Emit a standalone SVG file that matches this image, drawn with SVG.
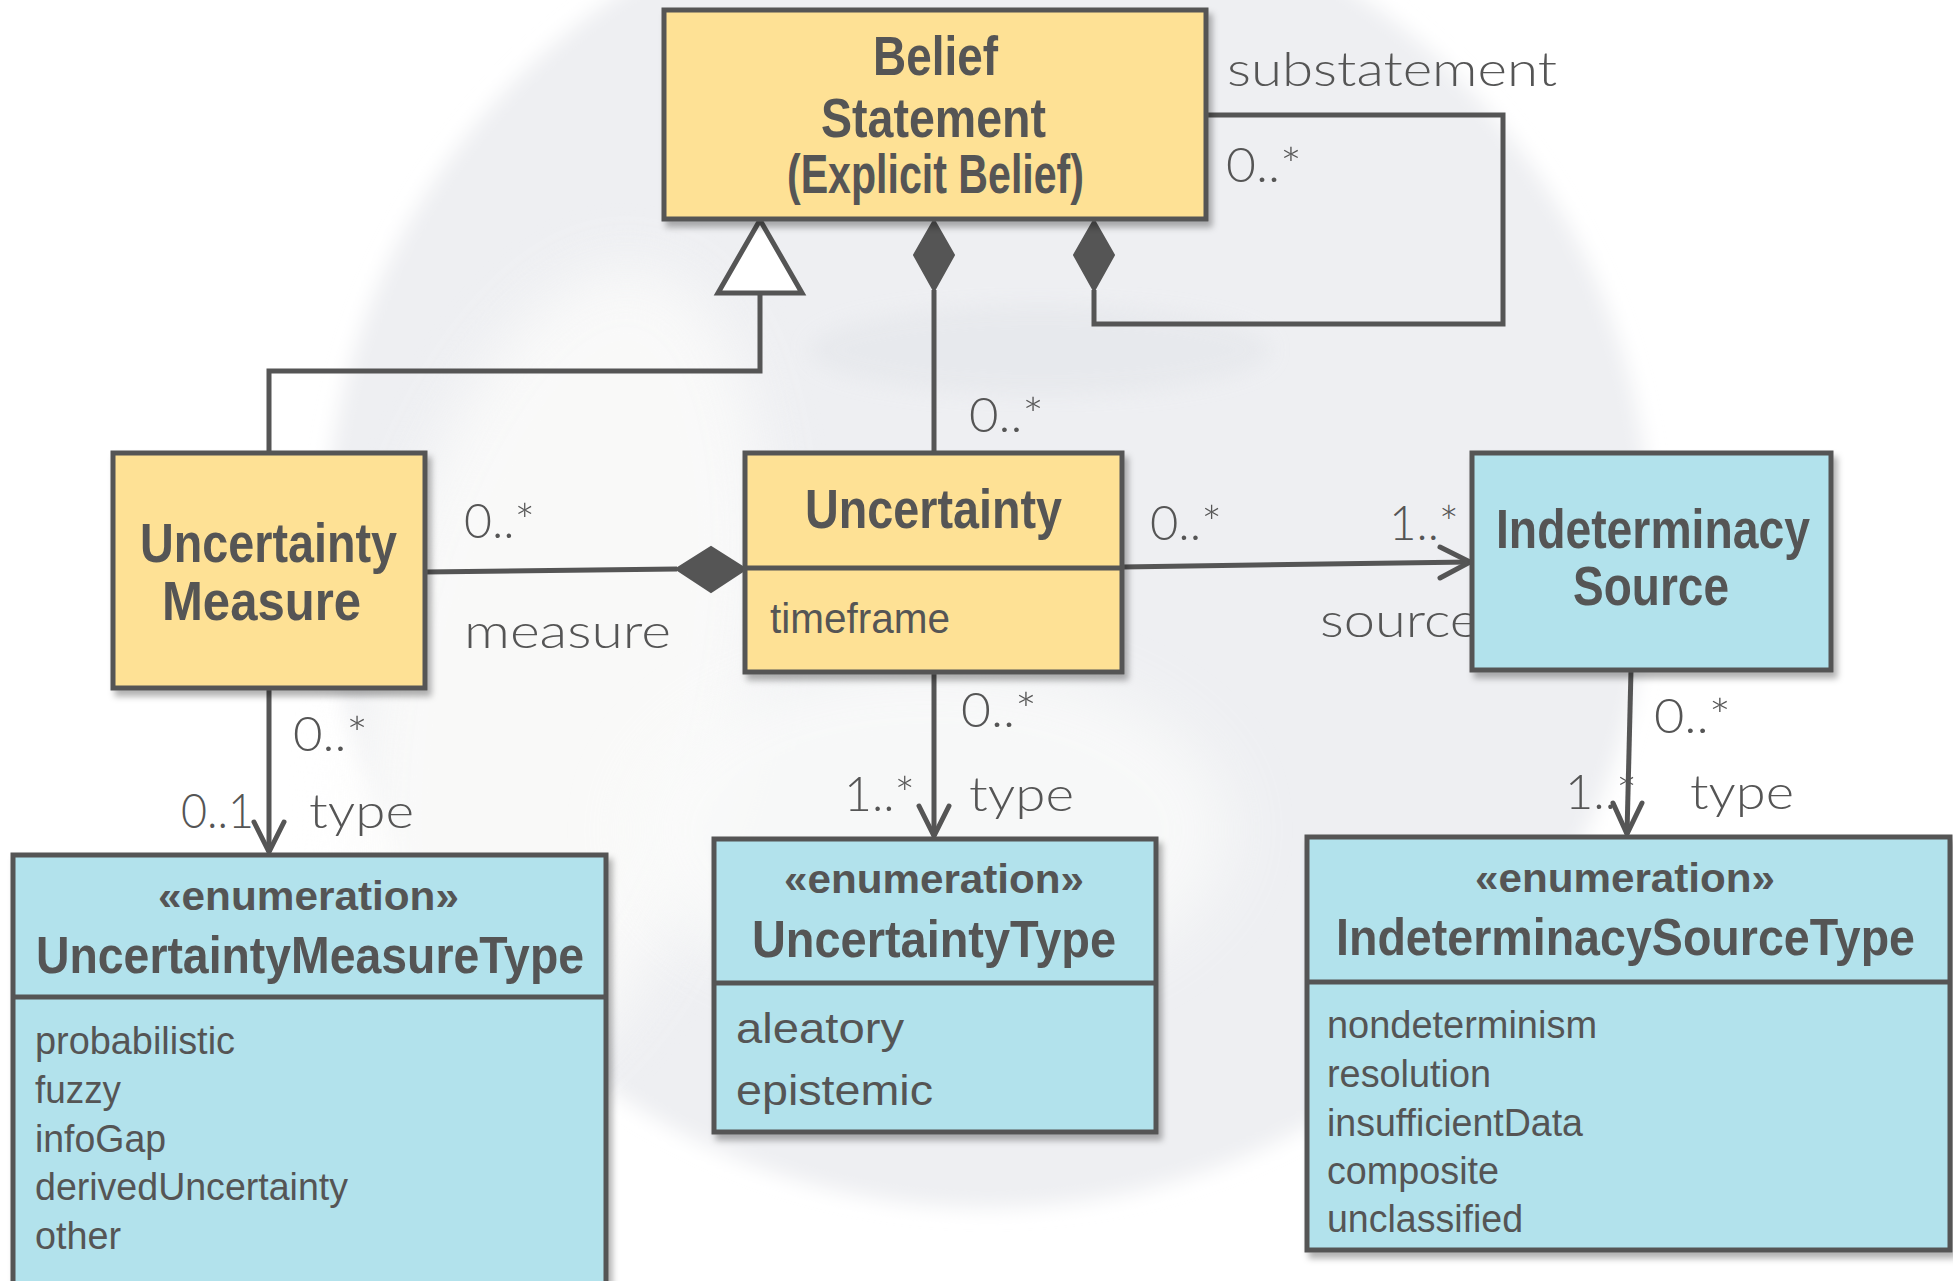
<svg xmlns="http://www.w3.org/2000/svg" width="1953" height="1281" viewBox="0 0 1953 1281">
  <style>
    .cls-y { fill: #fee195; stroke: #555555; stroke-width: 5; }
    .cls-b { fill: #b2e2ec; stroke: #555555; stroke-width: 5; }
    .div { stroke: #555555; stroke-width: 5; fill: none; }
    .name { font-family: "Liberation Sans", Arial, sans-serif; font-weight: bold; font-size: 56px; fill: #555555; }
    .ename { font-family: "Liberation Sans", Arial, sans-serif; font-weight: bold; font-size: 52px; fill: #555555; }
    .stereo { font-family: "Liberation Sans", Arial, sans-serif; font-weight: bold; font-size: 40px; fill: #555555; }
    .attr { font-family: "Liberation Sans", Arial, sans-serif; font-size: 42px; fill: #555555; }
    .lit { font-family: "Liberation Sans", Arial, sans-serif; font-size: 38px; fill: #555555; }
    .lbl { font-family: Lato, "Open Sans", sans-serif; font-weight: 300; font-size: 48px; fill: #555555; }
    .edge { stroke: #555555; stroke-width: 5; fill: none; stroke-linejoin: miter; }
    .open { stroke: #555555; stroke-width: 5; fill: none; stroke-linecap: round; stroke-linejoin: round; }
    .comp { fill: #555555; stroke: #555555; stroke-width: 2; }
    .gen { fill: #ffffff; stroke: #555555; stroke-width: 5; }
  </style>
  <defs>
    <filter id="shadow" x="-10%" y="-10%" width="130%" height="130%">
      <feDropShadow dx="4" dy="6" stdDeviation="3" flood-color="#000000" flood-opacity="0.3"/>
    </filter>
    <filter id="soft" x="-20%" y="-20%" width="140%" height="140%">
      <feGaussianBlur stdDeviation="10"/>
    </filter>
    <filter id="softer" x="-40%" y="-40%" width="180%" height="180%">
      <feGaussianBlur stdDeviation="30"/>
    </filter>
  </defs>

  <!-- faint globe backdrop -->
  <g id="backdrop">
    <rect x="0" y="0" width="1953" height="1281" fill="#ffffff"/>
    <circle cx="988" cy="545" r="663" fill="#eeeff2" filter="url(#soft)"/>
    <ellipse cx="560" cy="680" rx="190" ry="420" fill="#fbfbfa" opacity="0.85" filter="url(#softer)" transform="rotate(12 560 680)"/>
    <ellipse cx="930" cy="830" rx="300" ry="170" fill="#fafbfa" opacity="0.8" filter="url(#softer)"/>
    <ellipse cx="1040" cy="350" rx="230" ry="45" fill="#e6e8ec" opacity="0.8" filter="url(#soft)"/>
  </g>

  <!-- connectors -->
  <g id="connectors">
    <!-- generalization: Uncertainty Measure -> Belief Statement -->
    <polyline class="edge" points="269,453 269,371 760,371 760,293"/>
    <polygon class="gen" points="760,220 718,293 802,293"/>
    <!-- composition: Belief Statement <>- Uncertainty -->
    <line class="edge" x1="934" y1="290" x2="934" y2="453"/>
    <polygon class="comp" points="934,220 954,255 934,291 914,255"/>
    <!-- composition: substatement (self) -->
    <polyline class="edge" points="1094,290 1094,324 1503,324 1503,115 1206,115"/>
    <polygon class="comp" points="1094,220 1114,255 1094,291 1074,255"/>
    <!-- composition: Uncertainty <>- Uncertainty Measure -->
    <line class="edge" x1="425" y1="572" x2="677" y2="569"/>
    <polygon class="comp" points="746,569 711,547 676,569 711,592"/>
    <!-- association: Uncertainty -> Indeterminacy Source -->
    <line class="edge" x1="1122" y1="567" x2="1470" y2="562"/>
    <polyline class="open" points="1440,547 1470,562 1440,578"/>
    <!-- association: Uncertainty Measure -> UncertaintyMeasureType -->
    <line class="edge" x1="269" y1="688" x2="269" y2="852"/>
    <polyline class="open" points="254,822 269,852 284,822"/>
    <!-- association: Uncertainty -> UncertaintyType -->
    <line class="edge" x1="934" y1="672" x2="934" y2="836"/>
    <polyline class="open" points="919,806 934,836 949,806"/>
    <!-- association: Indeterminacy Source -> IndeterminacySourceType -->
    <line class="edge" x1="1631" y1="670" x2="1627" y2="834"/>
    <polyline class="open" points="1613,803 1627,834 1642,803"/>

    <!-- role names and multiplicities -->
    <text class="lbl" x="1227" y="86" textLength="330" lengthAdjust="spacingAndGlyphs">substatement</text>
    <text class="lbl" x="1226" y="182" textLength="76" lengthAdjust="spacingAndGlyphs">0..*</text>
    <text class="lbl" x="969" y="432" textLength="75" lengthAdjust="spacingAndGlyphs">0..*</text>
    <text class="lbl" x="464" y="538" textLength="71" lengthAdjust="spacingAndGlyphs">0..*</text>
    <text class="lbl" x="464" y="648" textLength="207" lengthAdjust="spacingAndGlyphs">measure</text>
    <text class="lbl" x="1150" y="540" textLength="72" lengthAdjust="spacingAndGlyphs">0..*</text>
    <text class="lbl" x="1389" y="540" textLength="70" lengthAdjust="spacingAndGlyphs">1..*</text>
    <text class="lbl" x="1320" y="637" textLength="159" lengthAdjust="spacingAndGlyphs">source</text>
    <text class="lbl" x="293" y="751" textLength="75" lengthAdjust="spacingAndGlyphs">0..*</text>
    <text class="lbl" x="181" y="828" textLength="73" lengthAdjust="spacingAndGlyphs">0..1</text>
    <text class="lbl" x="309" y="828" textLength="105" lengthAdjust="spacingAndGlyphs">type</text>
    <text class="lbl" x="961" y="727" textLength="76" lengthAdjust="spacingAndGlyphs">0..*</text>
    <text class="lbl" x="844" y="811" textLength="71" lengthAdjust="spacingAndGlyphs">1..*</text>
    <text class="lbl" x="969" y="811" textLength="105" lengthAdjust="spacingAndGlyphs">type</text>
    <text class="lbl" x="1654" y="733" textLength="77" lengthAdjust="spacingAndGlyphs">0..*</text>
    <text class="lbl" x="1565" y="809" textLength="72" lengthAdjust="spacingAndGlyphs">1..*</text>
    <text class="lbl" x="1690" y="809" textLength="104" lengthAdjust="spacingAndGlyphs">type</text>
  </g>

  <!-- Belief Statement -->
  <g id="belief-statement">
    <rect class="cls-y" x="664" y="10" width="542" height="209" filter="url(#shadow)"/>
    <text class="name" x="873" y="75" textLength="125" lengthAdjust="spacingAndGlyphs">Belief</text>
    <text class="name" x="821" y="137" textLength="225" lengthAdjust="spacingAndGlyphs">Statement</text>
    <text class="name" x="787" y="193" textLength="297" lengthAdjust="spacingAndGlyphs">(Explicit Belief)</text>
  </g>

  <!-- Uncertainty Measure -->
  <g id="uncertainty-measure">
    <rect class="cls-y" x="113" y="453" width="312" height="235" filter="url(#shadow)"/>
    <text class="name" x="140" y="562" textLength="257" lengthAdjust="spacingAndGlyphs">Uncertainty</text>
    <text class="name" x="162" y="620" textLength="199" lengthAdjust="spacingAndGlyphs">Measure</text>
  </g>

  <!-- Uncertainty -->
  <g id="uncertainty">
    <rect class="cls-y" x="745" y="453" width="377" height="219" filter="url(#shadow)"/>
    <line class="div" x1="745" y1="568" x2="1122" y2="568"/>
    <text class="name" x="805" y="528" textLength="257" lengthAdjust="spacingAndGlyphs">Uncertainty</text>
    <text class="attr" x="770" y="633" textLength="180" lengthAdjust="spacingAndGlyphs">timeframe</text>
  </g>

  <!-- Indeterminacy Source -->
  <g id="indeterminacy-source">
    <rect class="cls-b" x="1472" y="453" width="359" height="217" filter="url(#shadow)"/>
    <text class="name" x="1496" y="548" textLength="314" lengthAdjust="spacingAndGlyphs">Indeterminacy</text>
    <text class="name" x="1573" y="605" textLength="156" lengthAdjust="spacingAndGlyphs">Source</text>
  </g>

  <!-- UncertaintyMeasureType enumeration -->
  <g id="uncertainty-measure-type">
    <rect class="cls-b" x="13" y="855" width="593" height="440" filter="url(#shadow)"/>
    <line class="div" x1="13" y1="997" x2="606" y2="997"/>
    <text class="stereo" x="158" y="910" textLength="301" lengthAdjust="spacingAndGlyphs">«enumeration»</text>
    <text class="ename" x="36" y="973" textLength="548" lengthAdjust="spacingAndGlyphs">UncertaintyMeasureType</text>
    <text class="lit" x="35" y="1054" textLength="200" lengthAdjust="spacingAndGlyphs">probabilistic</text>
    <text class="lit" x="35" y="1103" textLength="86" lengthAdjust="spacingAndGlyphs">fuzzy</text>
    <text class="lit" x="35" y="1152" textLength="131" lengthAdjust="spacingAndGlyphs">infoGap</text>
    <text class="lit" x="35" y="1200" textLength="313" lengthAdjust="spacingAndGlyphs">derivedUncertainty</text>
    <text class="lit" x="35" y="1249" textLength="86" lengthAdjust="spacingAndGlyphs">other</text>
  </g>

  <!-- UncertaintyType enumeration -->
  <g id="uncertainty-type">
    <rect class="cls-b" x="714" y="839" width="442" height="293" filter="url(#shadow)"/>
    <line class="div" x1="714" y1="983" x2="1156" y2="983"/>
    <text class="stereo" x="784" y="893" textLength="300" lengthAdjust="spacingAndGlyphs">«enumeration»</text>
    <text class="ename" x="752" y="957" textLength="364" lengthAdjust="spacingAndGlyphs">UncertaintyType</text>
    <text class="attr" x="736" y="1043" textLength="168" lengthAdjust="spacingAndGlyphs">aleatory</text>
    <text class="attr" x="736" y="1105" textLength="197" lengthAdjust="spacingAndGlyphs">epistemic</text>
  </g>

  <!-- IndeterminacySourceType enumeration -->
  <g id="indeterminacy-source-type">
    <rect class="cls-b" x="1307" y="837" width="643" height="413" filter="url(#shadow)"/>
    <line class="div" x1="1307" y1="982" x2="1950" y2="982"/>
    <text class="stereo" x="1475" y="892" textLength="300" lengthAdjust="spacingAndGlyphs">«enumeration»</text>
    <text class="ename" x="1336" y="955" textLength="579" lengthAdjust="spacingAndGlyphs">IndeterminacySourceType</text>
    <text class="lit" x="1327" y="1038" textLength="270" lengthAdjust="spacingAndGlyphs">nondeterminism</text>
    <text class="lit" x="1327" y="1087" textLength="164" lengthAdjust="spacingAndGlyphs">resolution</text>
    <text class="lit" x="1327" y="1136" textLength="256" lengthAdjust="spacingAndGlyphs">insufficientData</text>
    <text class="lit" x="1327" y="1184" textLength="172" lengthAdjust="spacingAndGlyphs">composite</text>
    <text class="lit" x="1327" y="1232" textLength="196" lengthAdjust="spacingAndGlyphs">unclassified</text>
  </g>
</svg>
